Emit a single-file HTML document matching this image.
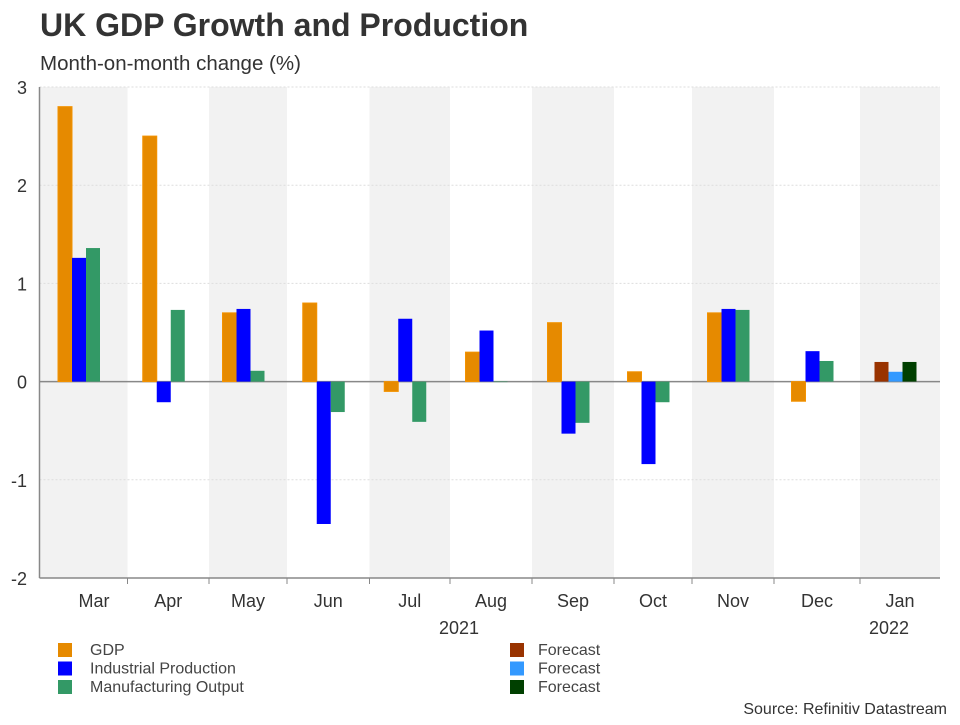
<!DOCTYPE html>
<html><head><meta charset="utf-8"><style>
body{margin:0;background:#fff;font-family:"Liberation Sans",Arial,sans-serif;}
svg text{font-family:"Liberation Sans",Arial,sans-serif;}
</style></head><body>
<svg id="c" width="960" height="720" xmlns="http://www.w3.org/2000/svg">
<text x="40" y="36" font-size="32" font-weight="bold" fill="#333">UK GDP Growth and Production</text>
<text x="40" y="70" font-size="20.5" fill="#333">Month-on-month change (%)</text>
<g id="bands"></g><g id="grid"></g><g id="bars"></g><g id="axes"></g><g id="legend"></g>
<text x="947" y="714" font-size="16" fill="#333" text-anchor="end">Source: Refinitiv Datastream</text>
</svg>
<script>
const categories=["Mar","Apr","May","Jun","Jul","Aug","Sep","Oct","Nov","Dec","Jan"];
const gdp=[2.8,2.5,0.7,0.8,-0.1,0.3,0.6,0.1,0.7,-0.2,null];
const industrial=[1.26,-0.21,0.74,-1.45,0.64,0.52,-0.53,-0.84,0.74,0.31,null];
const manufacturing=[1.36,0.73,0.11,-0.31,-0.41,0.0,-0.42,-0.21,0.73,0.21,null];
const gdpForecast=[null,null,null,null,null,null,null,null,null,null,0.2];
const ipForecast=[null,null,null,null,null,null,null,null,null,null,0.1];
const moForecast=[null,null,null,null,null,null,null,null,null,null,0.2];
const yTicks=[3,2,1,0,-1,-2];
const NS="http://www.w3.org/2000/svg";
const edges=[39.5,127.5,209,287,369.5,450,532,614,692,774,860,940];
const yTop=87,yBot=578,vMax=3,vMin=-2;
function y(v){return yTop+(vMax-v)*(yBot-yTop)/(vMax-vMin);}
function mk(p,t,a){const e=document.createElementNS(NS,t);for(const k in a)e.setAttribute(k,a[k]);p.appendChild(e);return e;}
const bands=document.getElementById('bands'),grid=document.getElementById('grid'),bars=document.getElementById('bars'),axes=document.getElementById('axes'),legend=document.getElementById('legend');
categories.forEach((c,i)=>{
 if(i%2===0){const r=mk(bands,'rect',{x:edges[i],y:yTop,width:edges[i+1]-edges[i],height:yBot-yTop,fill:'#f2f2f2'});
 
 }
});
yTicks.forEach(t=>{
 const l=mk(grid,'line',{x1:39.5,x2:940,y1:y(t),y2:y(t),stroke:t===0?'#888':'#ddd','stroke-width':t===0?1.5:1,'stroke-dasharray':t===0?'':'2,2'});
 
 
 const tx=mk(axes,'text',{x:27,y:y(t)+7,'font-size':18,fill:'#333','text-anchor':'end'});tx.textContent=t;
 
 
});
const series=[[gdp,'#e68a00','#f39200','gdp'],[industrial,'#0000ff',null,'industrial'],[manufacturing,'#339966',null,'manufacturing'],[gdpForecast,'#993300',null,'gdp-forecast'],[ipForecast,'#3399ff',null,'ip-forecast'],[moForecast,'#004000',null,'mo-forecast']];
const bw=14;
categories.forEach((c,i)=>{
 const cx=(edges[i]+edges[i+1])/2-4.5;
 series.forEach((s,si)=>{
  const v=s[0][i];
  const k=si%3;
  if(v===null)return;
  const x=cx-1.5*bw+k*bw;
  const y0=y(0),y1=y(v);
  const r=mk(bars,'rect',{x:x,y:Math.min(y0,y1),width:bw,height:Math.max(Math.abs(y1-y0),0.5),fill:s[1]});
  if(s[2]){r.setAttribute('stroke',s[2]);r.setAttribute('stroke-width',1);}
  
  
 });
 const lx=i===0?94:(edges[i]+edges[i+1])/2;
 const t=mk(axes,'text',{x:lx,y:607,'font-size':18,fill:'#333','text-anchor':'middle'});t.textContent=c;
 
 
});
mk(axes,'line',{x1:39.5,x2:39.5,y1:yTop,y2:yBot,stroke:'#888','stroke-width':1.5});
mk(axes,'line',{x1:39.5,x2:940,y1:yBot,y2:yBot,stroke:'#888','stroke-width':1.5});
edges.slice(1,-1).forEach(e=>{mk(axes,'line',{x1:e,x2:e,y1:yBot,y2:yBot+6,stroke:'#888','stroke-width':1});});
[["2021",459],["2022",889]].forEach(a=>{const t=mk(axes,'text',{x:a[1],y:634,'font-size':18,fill:'#333','text-anchor':'middle'});t.textContent=a[0];
 
 });
const leg=[["GDP","#e68a00",58,90,0],["Industrial Production","#0000ff",58,90,1],["Manufacturing Output","#339966",58,90,2],["Forecast","#993300",510,538,0],["Forecast","#3399ff",510,538,1],["Forecast","#004000",510,538,2]];
leg.forEach(l=>{
 const g=mk(legend,'g',{});
 
 
 mk(g,'rect',{x:l[2],y:643+l[4]*18.5,width:14,height:14,fill:l[1]});
 const t=mk(g,'text',{x:l[3],y:655+l[4]*18.5,'font-size':16,fill:'#444'});t.textContent=l[0];
});
</script>
</body></html>
